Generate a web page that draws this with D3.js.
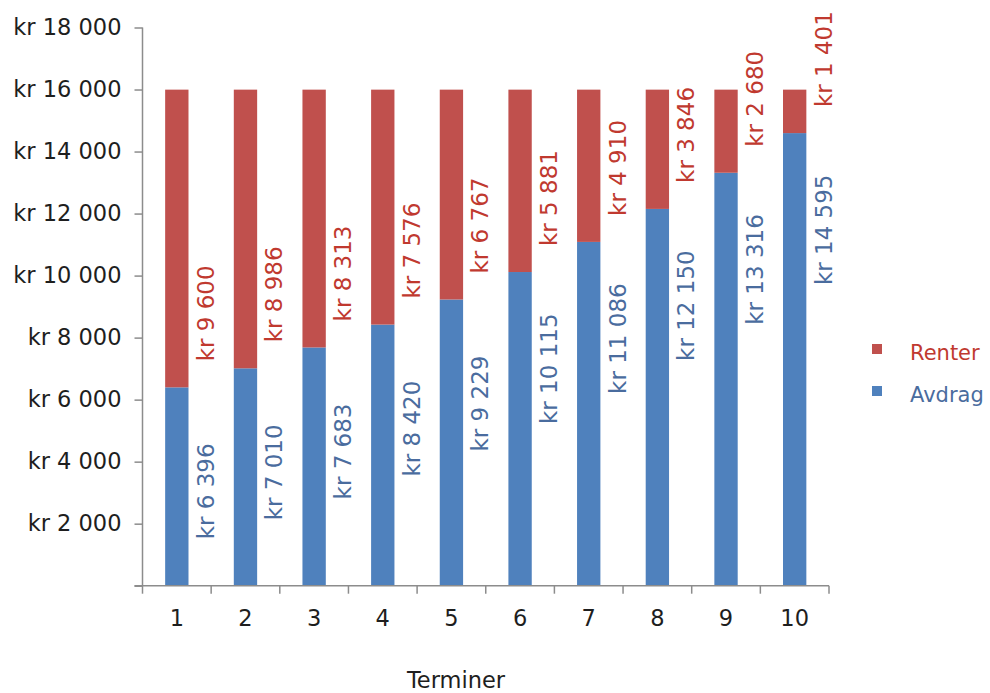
<!DOCTYPE html>
<html>
<head>
<meta charset="utf-8">
<script src="https://cdn.jsdelivr.net/npm/d3@7"></script>
<style>
  html, body { margin: 0; padding: 0; background: #ffffff; }
  svg { display: block; font-family: "DejaVu Sans", Verdana, sans-serif; }
</style>
</head>
<body>
<svg id="chart" width="990" height="693"></svg>
<script>
// Annuitetslån: avdrag og renter per termin
const terminer = ["1", "2", "3", "4", "5", "6", "7", "8", "9", "10"];
const avdrag = [6396, 7010, 7683, 8420, 9229, 10115, 11086, 12150, 13316, 14595];
const renter = [9600, 8986, 8313, 7576, 6767, 5881, 4910, 3846, 2680, 1401];
const yTicks = [0, 2000, 4000, 6000, 8000, 10000, 12000, 14000, 16000, 18000];
const seriesNames = ["Renter", "Avdrag"];

const colors = { Avdrag: "#4F81BD", Renter: "#C0504D" };
const labelColors = { Avdrag: "#4A6C9E", Renter: "#C0392F" };
const axisColor = "#8C8C8C";

const nok = d3.formatLocale({ decimal: ",", thousands: "\u00a0", grouping: [3], currency: ["kr\u00a0", ""] });
const fmt = v => nok.format("$,")(v);

const svg = d3.select("#chart");
const plot = { left: 142.5, right: 829, top: 27.5, bottom: 585.7 };

const x = d3.scaleBand().domain(terminer).range([plot.left, plot.right]).padding(0);
const y = d3.scaleLinear().domain([0, 18000]).range([plot.bottom, plot.top]);
const barW = x.bandwidth() * 0.34;

const rows = terminer.map((t, i) => ({ termin: t, Avdrag: avdrag[i], Renter: renter[i] }));
const stacked = d3.stack().keys(["Avdrag", "Renter"])(rows);

// stacked bars
svg.append("g").selectAll("g").data(stacked).join("g")
  .attr("fill", d => colors[d.key])
  .selectAll("rect").data(d => d).join("rect")
  .attr("x", d => x(d.data.termin) + (x.bandwidth() - barW) / 2)
  .attr("width", barW)
  .attr("y", d => y(d[1]))
  .attr("height", d => y(d[0]) - y(d[1]));

// y axis
const yAxis = d3.axisLeft(y).tickValues(yTicks).tickSize(8).tickPadding(13)
  .tickFormat(v => v === 0 ? "" : fmt(v));
const gy = svg.append("g").attr("transform", `translate(${plot.left},0)`).call(yAxis);
gy.select(".domain").attr("stroke", axisColor).attr("stroke-width", 1.5)
  .attr("d", `M0,${plot.bottom}V${plot.top}`);
gy.selectAll(".tick line").attr("stroke", axisColor).attr("stroke-width", 1.5);
gy.selectAll(".tick text").attr("fill", "#1e1e1e").attr("font-size", 22.5)
  .attr("font-family", "'DejaVu Sans', sans-serif");

// x axis: ticks sit on the band boundaries, labels in the band centres
const gx = svg.append("g").attr("transform", `translate(0,${plot.bottom})`);
gx.append("path").attr("stroke", axisColor).attr("stroke-width", 1.5).attr("fill", "none")
  .attr("d", `M${plot.left - 8},0H${plot.right}`);
const bounds = terminer.map(t => x(t)).concat([x(terminer[terminer.length - 1]) + x.bandwidth()]);
gx.selectAll("line.tk").data(bounds).join("line").attr("class", "tk")
  .attr("x1", d => d).attr("x2", d => d).attr("y1", 0).attr("y2", 8)
  .attr("stroke", axisColor).attr("stroke-width", 1.5);
gx.selectAll("text").data(terminer).join("text")
  .attr("x", d => x(d) + x.bandwidth() / 2).attr("y", 40)
  .attr("text-anchor", "middle").attr("font-size", 22.5).attr("fill", "#1e1e1e")
  .text(d => d);

svg.append("text").attr("x", 456).attr("y", 688).attr("text-anchor", "middle")
  .attr("font-size", 22.5).attr("fill", "#1e1e1e").text("Terminer");

// value labels, rotated, beside each bar
const lblX = d => x(d.termin) + x.bandwidth() / 2 + 37;
svg.append("g").selectAll("text").data(rows).join("text")
  .attr("transform", d => `translate(${lblX(d)},${y(d.Avdrag) + 152}) rotate(-90)`)
  .attr("font-size", 23).attr("fill", labelColors.Avdrag)
  .text(d => fmt(d.Avdrag));
svg.append("g").selectAll("text").data(rows).join("text")
  .attr("transform", d => `translate(${lblX(d)},${y(d.Avdrag) - 26}) rotate(-90)`)
  .attr("font-size", 23).attr("fill", labelColors.Renter)
  .text(d => fmt(d.Renter));

// legend
const lg = svg.append("g").attr("transform", "translate(872,344)");
const item = lg.selectAll("g").data(seriesNames).join("g")
  .attr("transform", (d, i) => `translate(0,${i * 42})`);
item.append("rect").attr("width", 10).attr("height", 10).attr("fill", d => colors[d]);
item.append("text").attr("x", 38).attr("y", 16).attr("font-size", 21)
  .attr("fill", d => labelColors[d]).text(d => d);
</script>
</body>
</html>
